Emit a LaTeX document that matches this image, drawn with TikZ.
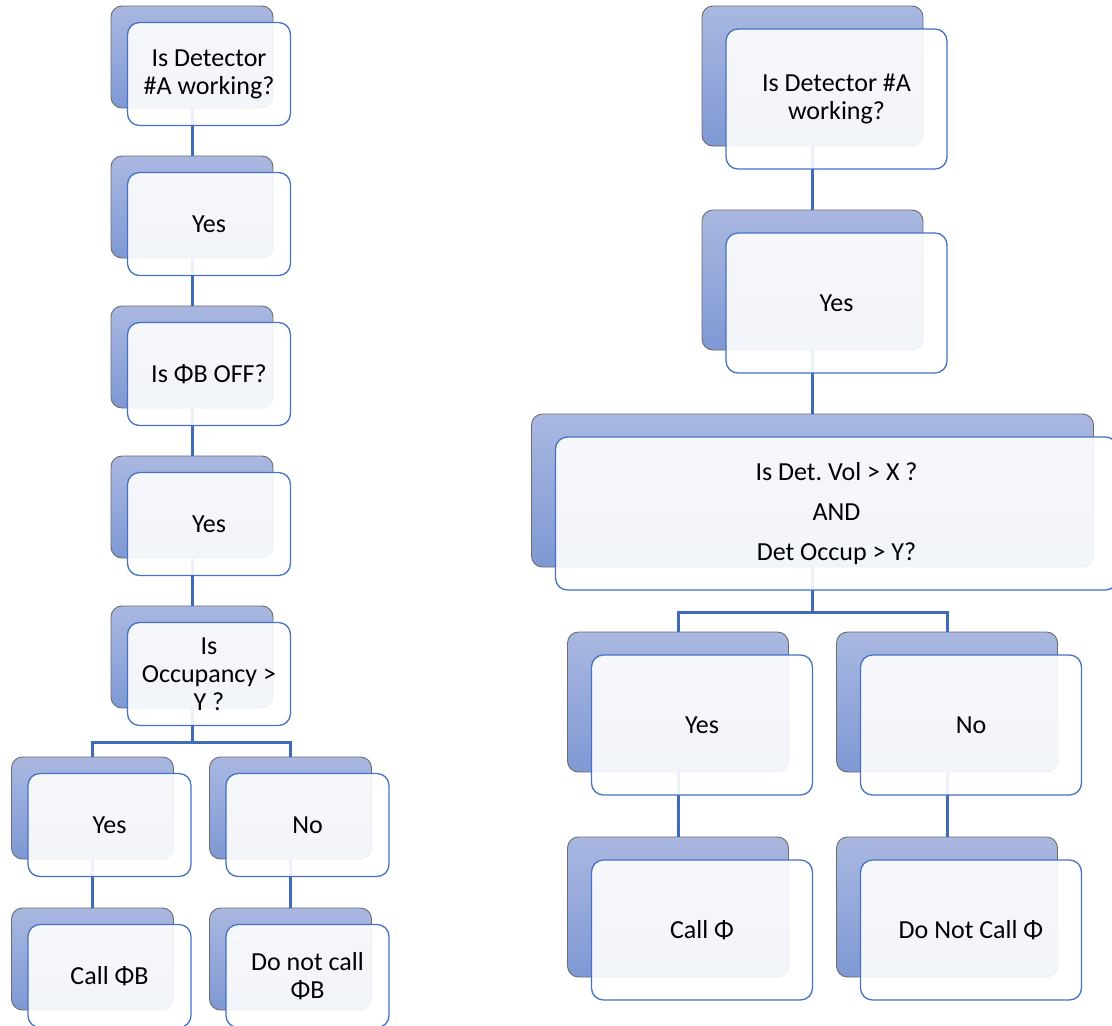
\documentclass[tikz,border=0pt]{standalone}
\usepackage{fontspec}
\setmainfont{Carlito}
\usetikzlibrary{positioning}
\frenchspacing

\definecolor{backtop}{HTML}{A9B8E0}
\definecolor{backbot}{HTML}{7F98D4}
\definecolor{frontline}{HTML}{4472C4}
\definecolor{linkblue}{HTML}{3F6CB8}

\begin{document}
\begin{tikzpicture}[
  x=1pt, y=-1pt,
  back/.style={rectangle, rounded corners=11pt, draw=black!58, line width=0.9pt,
    top color=backtop, bottom color=backbot, outer sep=0pt},
  backS/.style={back, minimum width=162pt, minimum height=102pt},
  backL/.style={back, minimum width=221pt, minimum height=140pt},
  backW/.style={back, minimum width=562pt, minimum height=153pt},
  front/.style={rectangle, rounded corners=12pt, draw=frontline, line width=1.3pt,
    fill=white, fill opacity=0.9, text opacity=1, align=center,
    font=\fontsize{26}{28}\selectfont},
  frontS/.style={front, minimum width=163pt, minimum height=103pt},
  frontL/.style={front, minimum width=221pt, minimum height=140pt},
  frontW/.style={front, minimum width=562pt, minimum height=153pt,
    font=\fontsize{26}{40}\selectfont},
  link/.style={draw=linkblue, line width=3pt}
]
  \useasboundingbox (0,0) rectangle (1112,1026);

  % left tree: back cards
  \node[backS] (b1) at (192,57) {};
  \node[backS, below=48pt of b1] (b2) {};
  \node[backS, below=48pt of b2] (b3) {};
  \node[backS, below=48pt of b3] (b4) {};
  \node[backS, below=48pt of b4] (b5) {};
  \node[backS, below=49pt of b5, xshift=-99.5pt] (b6) {};
  \node[backS, below=49pt of b5, xshift=98.5pt] (b7) {};
  \node[backS, below=49pt of b6] (b8) {};
  \node[backS, below=49pt of b7] (b9) {};

  % right tree: back cards
  \node[backL] (r1) at (812.5,76) {};
  \node[backL, below=64pt of r1] (r2) {};
  \node[backW, below=64pt of r2] (r3) {};
  \node[backL, below=65pt of r3, xshift=-134.5pt] (r4) {};
  \node[backL, below=65pt of r3, xshift=134.5pt] (r5) {};
  \node[backL, below=65pt of r4] (r6) {};
  \node[backL, below=65pt of r5] (r7) {};

  % connectors (under the front cards)
  \draw[link] (b1) -- (b2);
  \draw[link] (b2) -- (b3);
  \draw[link] (b3) -- (b4);
  \draw[link] (b4) -- (b5);
  \draw[link] (b5.south) -- ++(0,34) -| (b6.north);
  \draw[link] (b5.south) -- ++(0,34) -| (b7.north);
  \draw[link] (b6) -- (b8);
  \draw[link] (b7) -- (b9);

  \draw[link] (r1) -- (r2);
  \draw[link] (r2) -- (r3);
  \draw[link] (r3.south) -- ++(0,45) -| (r4.north);
  \draw[link] (r3.south) -- ++(0,45) -| (r5.north);
  \draw[link] (r4) -- (r6);
  \draw[link] (r5) -- (r7);

  % left tree: front cards
  \node[frontS] (t1) at ([shift={(17,17)}]b1.center) {Is Detector\\\#A working?};
  \node[frontS] (t2) at ([shift={(17,17)}]b2.center) {Yes};
  \node[frontS] (t3) at ([shift={(17,17)}]b3.center) {Is ΦB OFF?};
  \node[frontS] (t4) at ([shift={(17,17)}]b4.center) {Yes};
  \node[frontS] (t5) at ([shift={(17,17)}]b5.center) {Is\\Occupancy >\\Y ?};
  \node[frontS] (t6) at ([shift={(17,17)}]b6.center) {Yes};
  \node[frontS] (t7) at ([shift={(17,17)}]b7.center) {No};
  \node[frontS] (t8) at ([shift={(17,17)}]b8.center) {Call ΦB};
  \node[frontS] (t9) at ([shift={(17,17)}]b9.center) {Do not call\\ΦB};

  % right tree: front cards
  \node[frontL] (s1) at ([shift={(24,23)}]r1.center) {Is Detector \#A\\working?};
  \node[frontL] (s2) at ([shift={(24,23)}]r2.center) {Yes};
  \node[frontW] (s3) at ([shift={(24,23)}]r3.center)
    {Is Det. Vol > X ?\\AND\\Det Occup > Y?};
  \node[frontL] (s4) at ([shift={(24,23)}]r4.center) {Yes};
  \node[frontL] (s5) at ([shift={(24,23)}]r5.center) {No};
  \node[frontL] (s6) at ([shift={(24,23)}]r6.center) {Call Φ};
  \node[frontL] (s7) at ([shift={(24,23)}]r7.center) {Do Not Call Φ};
\end{tikzpicture}
\end{document}
